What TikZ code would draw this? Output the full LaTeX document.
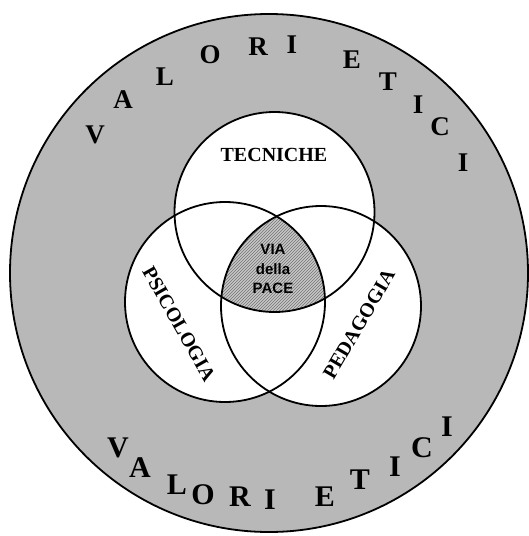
\documentclass[tikz,border=0pt]{standalone}
\usepackage{fontspec}
\setmainfont{Liberation Serif}
\setsansfont{Liberation Sans}
\usepackage{tikz}
\usetikzlibrary{patterns}

\begin{document}
\begin{tikzpicture}[
  % --- global style ---
  x=1pt, y=-1pt,
  ring/.style={draw, line width=1.8pt},
  toplet/.style={font=\fontsize{27}{27}\selectfont\bfseries, inner sep=0pt},
  botlet/.style={font=\fontsize{30}{30}\selectfont\bfseries, inner sep=0pt},
  area/.style={font=\fontsize{20}{20}\selectfont\bfseries, inner sep=0pt},
  core/.style={font=\fontsize{15}{19.5}\selectfont\sffamily\bfseries,
    align=center, inner sep=0pt},
]
\useasboundingbox (0,0) rectangle (529,536);

% ====== Circle centres ======
\coordinate (cout) at (269,273);
\coordinate (ctec) at (274.5,212);
\coordinate (cpsi) at (225,302);
\coordinate (cped) at (321,306);

% ====== Fills ======
\fill[black!28] (cout) circle [radius=259pt];
\fill[white] (ctec) circle [radius=100pt];
\fill[white] (cpsi) circle [radius=100pt];
\fill[white] (cped) circle [radius=100pt];

% common part of the three circles
\begin{scope}
  \clip (ctec) circle [radius=100pt];
  \clip (cpsi) circle [radius=100pt];
  \fill[black!22] (cped) circle [radius=100pt];
  \fill[pattern=north east lines, pattern color=black!55] (cped) circle [radius=100pt];
\end{scope}

% ====== Outlines ======
\draw[ring] (cout) circle [radius=259pt];
\draw[ring] (ctec) circle [radius=100pt];
\draw[ring] (cpsi) circle [radius=100pt];
\draw[ring] (cped) circle [radius=100pt];

% ====== Inner labels ======
\node[area] (tec) at (274,155) {TECNICHE};
\node[area, rotate=-60.5] (psi) at (179,324) {PSICOLOGIA};
\node[area, rotate=59.7] (ped) at (359,324) {PEDAGOGIA};
\node[core] (via) at (273,269) {VIA\\della\\PACE};

% ====== Upper rim ======
\node[toplet] (tv)  at (95,135)  {V};
\node[toplet] (ta)  at (123,100) {A};
\node[toplet] (tl)  at (165,77)  {L};
\node[toplet] (to)  at (210,55)  {O};
\node[toplet] (tr)  at (258,47)  {R};
\node[toplet] (ti)  at (292,45)  {I};
\node[toplet] (te)  at (352,60)  {E};
\node[toplet] (tt)  at (388,82)  {T};
\node[toplet] (ti2) at (418,105) {I};
\node[toplet] (tc)  at (440,127) {C};
\node[toplet] (ti3) at (463,163) {I};

% ====== Lower rim ======
\node[botlet] (bv)  at (118,448) {V};
\node[botlet] (ba)  at (140,468) {A};
\node[botlet] (bl)  at (177,485) {L};
\node[botlet] (bo)  at (203,495) {O};
\node[botlet] (br)  at (240,497) {R};
\node[botlet] (bi)  at (270,500) {I};
\node[botlet] (be)  at (325,497) {E};
\node[botlet] (bt)  at (360,480) {T};
\node[botlet] (bi2) at (395,467) {I};
\node[botlet] (bc)  at (422,448) {C};
\node[botlet] (bi3) at (447,427) {I};

\end{tikzpicture}
\end{document}
